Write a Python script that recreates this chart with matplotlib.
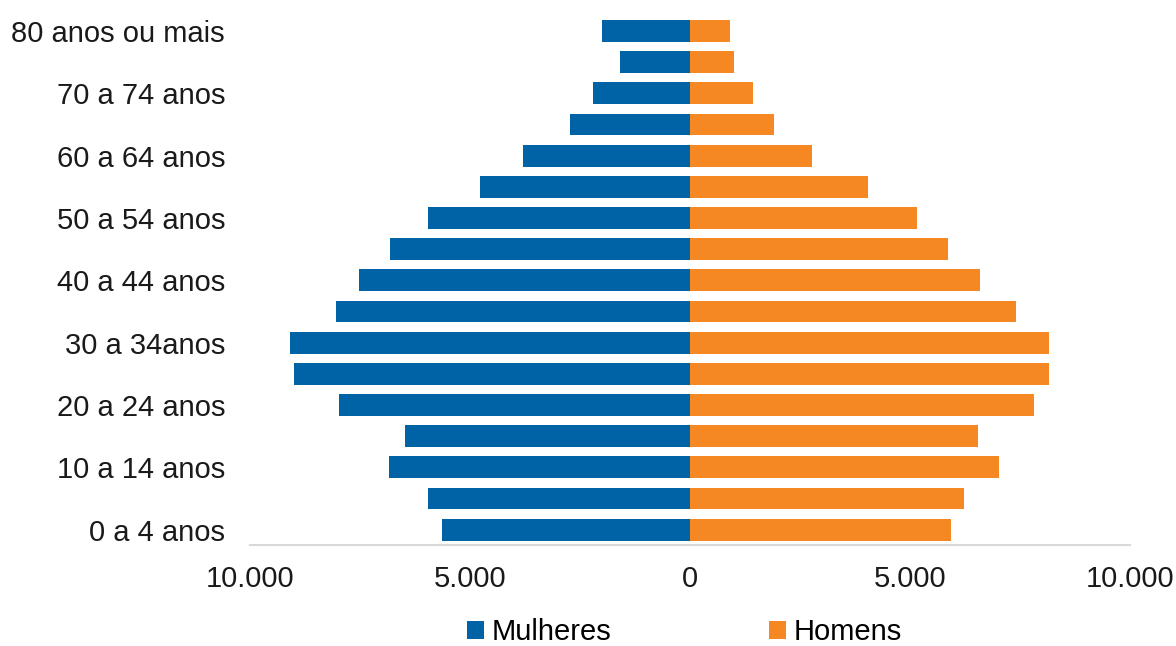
import matplotlib
matplotlib.use("Agg")
import matplotlib.pyplot as plt
from matplotlib.ticker import FuncFormatter

# faixas etarias, de baixo para cima
faixas = ["0 a 4 anos", "5 a 9 anos", "10 a 14 anos", "15 a 19 anos",
          "20 a 24 anos", "25 a 29 anos", "30 a 34anos", "35 a 39 anos",
          "40 a 44 anos", "45 a 49 anos", "50 a 54 anos", "55 a 59 anos",
          "60 a 64 anos", "65 a 69 anos", "70 a 74 anos", "75 a 79 anos",
          "80 anos ou mais"]
mulheres = [5640, 5960, 6840, 6480, 7980, 9000, 9090, 8050, 7520, 6820,
            5960, 4770, 3790, 2730, 2200, 1590, 2000]
homens = [5930, 6230, 7020, 6550, 7820, 8160, 8160, 7410, 6590, 5860,
          5160, 4050, 2770, 1910, 1430, 1000, 910]

AZUL = "#0063A6"
LARANJA = "#F58823"

plt.rcParams["font.family"] = ["Liberation Sans", "DejaVu Sans"]

fig = plt.figure(figsize=(11.76, 6.46), dpi=100)
ax = fig.add_axes([0.2126, 0.156, 0.7484, 0.82])

y = list(range(len(faixas)))
ax.barh(y, [-v for v in mulheres], height=0.7, color=AZUL, label="Mulheres")
ax.barh(y, homens, height=0.7, color=LARANJA, label="Homens")

ax.set_xlim(-10000, 10000)
ax.set_ylim(-0.5, len(faixas) - 0.5)
ax.set_xticks([-10000, -5000, 0, 5000, 10000])
ax.xaxis.set_major_formatter(FuncFormatter(lambda v, p: f"{abs(v):,.0f}".replace(",", ".")))
ax.set_yticks(y[::2])
ax.set_yticklabels(faixas[::2])
ax.tick_params(axis="both", length=0, labelsize=21, colors="#1a1a1a")
ax.tick_params(axis="y", pad=18)
ax.tick_params(axis="x", pad=14)

for s in ["top", "right", "left"]:
    ax.spines[s].set_visible(False)
ax.spines["bottom"].set_color("#d9d9d9")
ax.spines["bottom"].set_linewidth(1.5)

fig.legend(*ax.get_legend_handles_labels(), loc="center", bbox_to_anchor=(0.582, 0.021),
           ncol=2, frameon=False, fontsize=21, handlelength=0.6, handleheight=0.6,
           handletextpad=0.25, columnspacing=5.4, borderpad=0)

fig.savefig("out.png", dpi=100)
